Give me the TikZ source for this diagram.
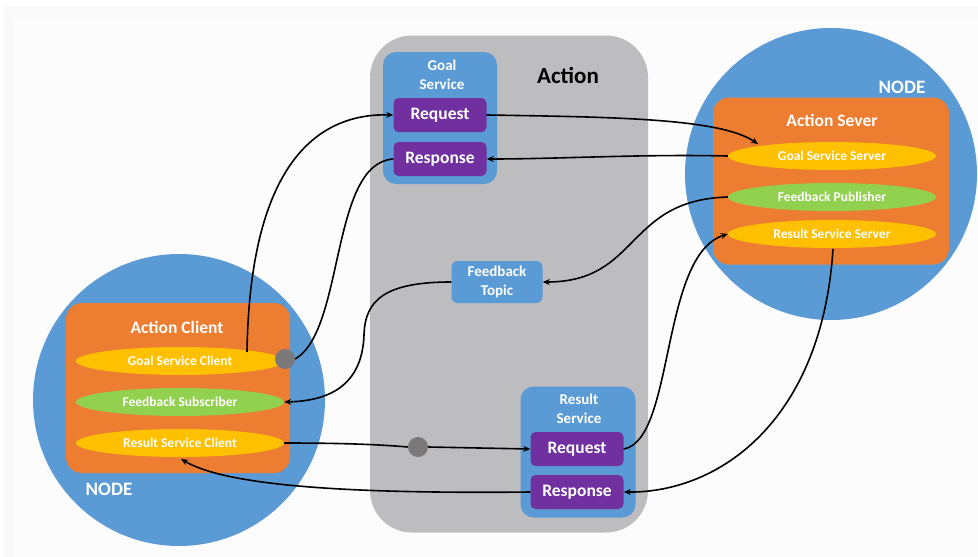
\documentclass[tikz,border=0pt]{standalone}
\usepackage{fontspec}
\setmainfont{Carlito}
\usetikzlibrary{shapes.geometric,arrows.meta}
\definecolor{nodeblue}{HTML}{5B9BD5}
\definecolor{boxorange}{HTML}{ED7D31}
\definecolor{ovalyellow}{HTML}{FFC000}
\definecolor{ovalgreen}{HTML}{92D050}
\definecolor{msgpurple}{HTML}{7030A0}
\definecolor{actiongrey}{HTML}{BDBCBE}
\definecolor{dotgrey}{HTML}{7A7878}
\definecolor{pagetint}{HTML}{F9F9FA}
\definecolor{pagelight}{HTML}{FCFCFD}
\tikzset{
  rosnode/.style={circle,fill=nodeblue,minimum size=292pt,inner sep=0pt},
  orangebox/.style={rectangle,rounded corners=16pt,fill=boxorange,inner sep=0pt},
  oval/.style={ellipse,minimum width=208pt,minimum height=28pt,inner sep=0pt,
    text=white,font=\fontsize{13.5}{15}\selectfont\bfseries},
  svcbox/.style={rectangle,rounded corners=13pt,fill=nodeblue,inner sep=0pt},
  msgbox/.style={rectangle,rounded corners=5pt,fill=msgpurple,minimum width=93pt,
    minimum height=34pt,inner sep=0pt,text=white,font=\fontsize{17.5}{20}\selectfont\bfseries},
  svctitle/.style={text=white,align=center,font=\fontsize{15}{19.5}\selectfont\bfseries},
  nodetitle/.style={text=white,font=\fontsize{19}{22}\selectfont\bfseries},
  boxtitle/.style={text=white,font=\fontsize{17.5}{20}\selectfont\bfseries},
  joint/.style={circle,fill=dotgrey,minimum size=20pt,inner sep=0pt},
  link/.style={line width=1.6pt,black},
  flow/.style={link,-{Stealth[length=7pt,width=6pt]}},
}
\begin{document}
\begin{tikzpicture}[x=1pt,y=-1pt]
  % page background
  \useasboundingbox (0,0) rectangle (978,557);
  \fill[white] (0,0) rectangle (978,557);
  \fill[pagetint] (4,6) rectangle (978,557);
  \fill[pagelight] (14,17) rectangle (978,557);

  % the action block in the middle
  \node[rectangle,rounded corners=42pt,fill=actiongrey,minimum width=278pt,
        minimum height=497pt,inner sep=0pt] (action) at (509,284) {};
  \node[font=\fontsize{23}{26}\selectfont\bfseries,text=black] (actiontitle) at (568,75) {Action};

  % goal service
  \node[svcbox,minimum width=114pt,minimum height=132pt] (goalsvc) at (440,118) {};
  \node[svctitle] (goaltitle) at (442,75) {Goal\\Service};
  \node[msgbox] (goalreq) at (440,115) {Request};
  \node[msgbox] (goalres) at (440,159) {Response};

  % feedback topic
  \node[svcbox,rounded corners=6pt,minimum width=91pt,minimum height=42pt,svctitle,
        font=\fontsize{15}{19}\selectfont\bfseries] (fbtopic) at (497,282) {Feedback\\Topic};

  % result service
  \node[svcbox,minimum width=115pt,minimum height=131pt] (ressvc) at (578,452) {};
  \node[svctitle] (restitle) at (579,409) {Result\\Service};
  \node[msgbox] (resreq) at (577,449) {Request};
  \node[msgbox] (resres) at (577,492) {Response};

  % server node
  \node[rosnode] (servernode) at (831,174) {};
  \node[nodetitle] (servernodetitle) at (902,87) {NODE};
  \node[orangebox,minimum width=236pt,minimum height=167pt] (server) at (831,181) {};
  \node[boxtitle] (servertitle) at (832,120) {Action Sever};
  \node[oval,fill=ovalyellow] (gss) at (832,156) {Goal Service Server};
  \node[oval,fill=ovalgreen] (fbp) at (832,197) {Feedback Publisher};
  \node[oval,fill=ovalyellow] (rss) at (832,234) {Result Service Server};

  % client node
  \node[rosnode] (clientnode) at (179,400) {};
  \node[nodetitle] (clientnodetitle) at (109,489) {NODE};
  \node[orangebox,minimum width=224pt,minimum height=170pt] (client) at (178,388) {};
  \node[boxtitle] (clienttitle) at (177,327) {Action Client};
  \node[oval,fill=ovalyellow] (gsc) at (180,361) {Goal Service Client};
  \node[oval,fill=ovalgreen] (fbs) at (180,402) {Feedback Subscriber};
  \node[oval,fill=ovalyellow] (rsc) at (180,443) {Result Service Client};

  % connection points
  \coordinate (gsctop) at (247,352);
  \node[joint] (goaldot) at (285,359) {};
  \node[joint] (resultdot) at (418,447) {};
  \coordinate (gsstop) at (758,144);
  \coordinate (rssbottom) at (833,249);
  \coordinate (rscbottom) at (181,459);

  % goal exchange
  \draw[flow] (gsctop) .. controls (250,160) and (320,113) .. (goalreq.west);
  \draw[link] (goalres.west) .. controls (330,163) and (345,330) .. (goaldot.east);
  \draw[flow] (goalreq.east) .. controls (610,117) and (720,118) .. (gsstop);
  \draw[flow] (gss.west) .. controls (640,154) and (560,159) .. (goalres.east);

  % feedback
  \draw[flow] (fbp.west) .. controls (625,200) and (640,282) .. (fbtopic.east);
  \draw[flow] (fbtopic.west) .. controls (385,282) and (365,300) .. (364,335)
              .. controls (362,392) and (320,401) .. (fbs.east);

  % result exchange
  \draw[link] (rsc.east) .. controls (350,443) and (385,445) .. (resultdot.west);
  \draw[flow] (resultdot.east) -- (resreq.west);
  \draw[flow] (resreq.east) .. controls (675,440) and (660,255) .. (rss.west);
  \draw[flow] (rssbottom) .. controls (822,420) and (720,493) .. (resres.east);
  \draw[flow] (resres.west) .. controls (340,494) and (225,485) .. (rscbottom);
\end{tikzpicture}
\end{document}
